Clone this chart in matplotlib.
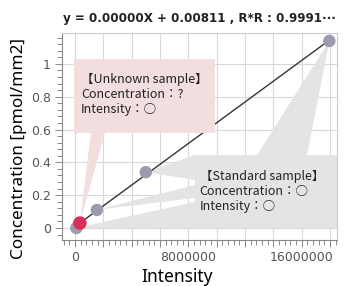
import numpy as np
import matplotlib
matplotlib.use("Agg")
import matplotlib.pyplot as plt
from matplotlib.patches import Rectangle, Polygon
from matplotlib.ticker import MultipleLocator, FuncFormatter

# standard samples (calibration points)
std_intensity = [100000, 1550000, 5000000, 17950000]
std_conc = [0.0, 0.11, 0.34, 1.14]
# unknown sample
unk_intensity = [350000]
unk_conc = [0.03]

title = "y = 0.00000X + 0.00811 , R*R : 0.9991\u00b7\u00b7\u00b7"
unknown_lines = ["\u3010Unknown sample\u3011", "Concentration\uff1a?", "Intensity\uff1a\u25cb"]
standard_lines = ["\u3010Standard sample\u3011", "Concentration\uff1a\u25cb", "Intensity\uff1a\u25cb"]

fig = plt.figure(figsize=(3.44, 2.86), dpi=100)
ax = fig.add_axes([0.180, 0.161, 0.800, 0.724])

ax.set_xlim(-920000, 18500000)
ax.set_ylim(-0.073, 1.189)

# regression line through the standards
slope, icpt = np.polyfit(std_intensity, std_conc, 1)
lx = np.array([min(std_intensity), max(std_intensity)])
ax.plot(lx, slope * lx + icpt, color='#333333', lw=1.0, zorder=3)

ax.scatter(std_intensity, std_conc, s=80, color='#9b9bb0', edgecolor='none', zorder=6)
ax.scatter(unk_intensity, unk_conc, s=95, color='#d8305a', edgecolor='none', zorder=7)

# callouts
a2d = ax.transAxes + ax.transData.inverted()

def wedge(base_axes, tip, color, z):
    b = a2d.transform(base_axes)
    ax.add_patch(Polygon([b[0], b[1], tip], closed=True, facecolor=color,
                         edgecolor='none', zorder=z))

grey = '#e4e4e4'
pink = '#f2dede'

ax.add_patch(Rectangle((0.484, 0.058), 0.516, 0.353, transform=ax.transAxes,
                       facecolor=grey, edgecolor='none', zorder=2))
wedge([(0.484, 0.411), (0.484, 0.290)], (std_intensity[2], std_conc[2]), grey, 2)
wedge([(0.484, 0.266), (0.484, 0.203)], (std_intensity[1], std_conc[1]), grey, 2)
wedge([(0.484, 0.184), (0.484, 0.058)], (std_intensity[0], std_conc[0]), grey, 2)
wedge([(0.709, 0.411), (0.891, 0.411)], (std_intensity[3], std_conc[3]), grey, 2)

ax.add_patch(Rectangle((0.044, 0.517), 0.512, 0.357, transform=ax.transAxes,
                       facecolor=pink, edgecolor='none', zorder=4))
wedge([(0.105, 0.517), (0.156, 0.517)], (unk_intensity[0], unk_conc[0]), pink, 4)

fam = ['Noto Sans CJK JP', 'DejaVu Sans']
ax.text(0.070, 0.808, "\n".join(unknown_lines), transform=ax.transAxes, family=fam,
        fontsize=9, color='#222222', va='top', ha='left', linespacing=1.22, zorder=8)
ax.text(0.500, 0.338, "\n".join(standard_lines), transform=ax.transAxes, family=fam,
        fontsize=9, color='#222222', va='top', ha='left', linespacing=1.18, zorder=8)

# axes styling
ax.xaxis.set_major_locator(MultipleLocator(2000000))
ax.xaxis.set_minor_locator(MultipleLocator(400000))
ax.xaxis.set_major_formatter(FuncFormatter(lambda v, p: "%d" % v if abs(v % 8000000) < 1 else ""))
ax.yaxis.set_major_locator(MultipleLocator(0.2))
ax.yaxis.set_minor_locator(MultipleLocator(0.04))
ax.yaxis.set_major_formatter(FuncFormatter(lambda v, p: "%g" % round(v, 2)))

ax.grid(True, which='major', color='#d9d9d9', lw=0.8, zorder=0)
ax.set_axisbelow(True)
ax.tick_params(which='both', direction='out', colors='#888888', labelcolor='#555555',
               labelsize=9, width=0.7)
ax.tick_params(which='major', length=5, pad=3)
ax.tick_params(which='minor', length=3.5)
for s in ['left', 'bottom']:
    ax.spines[s].set_color('#888888')
for s in ['top', 'right']:
    ax.spines[s].set_color('#cccccc')

ax.set_xlabel("Intensity", family='Noto Sans', fontsize=12.5)
ax.set_ylabel("Concentration [pmol/mm2]", family='Noto Sans', fontsize=12.3)
ax.xaxis.set_label_coords(0.418, -0.135)
ax.yaxis.set_label_coords(-0.127, 0.444)
ax.set_title(title, fontsize=8.6, fontweight='bold', color='#222222', pad=8)

fig.savefig("out.png", dpi=100)
